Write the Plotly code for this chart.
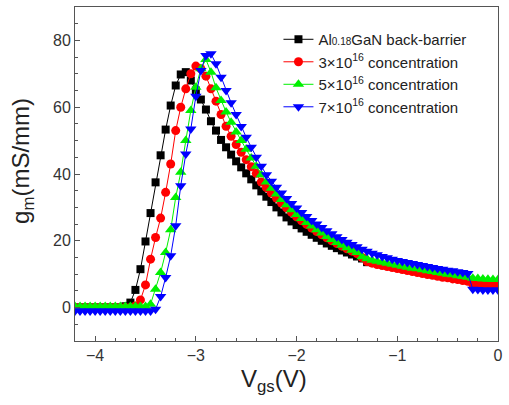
import plotly.graph_objects as go

# gate voltage grid (V)
vgs = [-4.20, -4.15, -4.10, -4.05, -4.00, -3.95, -3.90, -3.85, -3.80, -3.75,
       -3.70, -3.65, -3.60, -3.55, -3.50, -3.45, -3.40, -3.35, -3.30, -3.25,
       -3.20, -3.15, -3.10, -3.05, -3.00, -2.95, -2.90, -2.85, -2.80, -2.75,
       -2.70, -2.65, -2.60, -2.55, -2.50, -2.45, -2.40, -2.35, -2.30, -2.25,
       -2.20, -2.15, -2.10, -2.05, -2.00, -1.95, -1.90, -1.85, -1.80, -1.75,
       -1.70, -1.65, -1.60, -1.55, -1.50, -1.45, -1.40, -1.35, -1.30, -1.25,
       -1.20, -1.15, -1.10, -1.05, -1.00, -0.95, -0.90, -0.85, -0.80, -0.75,
       -0.70, -0.65, -0.60, -0.55, -0.50, -0.45, -0.40, -0.35, -0.30, -0.25,
       -0.20, -0.15, -0.10, -0.05, 0.00]

# transconductance gm (mS/mm)
gm_algan = [0, 0, 0, 0, 0, 0, 0, 0, 0, 0,
            0.4, 1.5, 5.3, 11.5, 19.8, 28.3, 37.5, 45.6, 53.3, 60.5,
            66.5, 69.8, 70.5, 68.0, 65.0, 62.3, 59.3, 55.8, 53.0, 50.2,
            48.0, 45.8, 43.8, 42.0, 40.2, 38.4, 36.6, 34.8, 33.2, 31.6,
            30.0, 28.5, 27.0, 25.8, 24.7, 23.7, 22.7, 21.8, 20.9, 20.0,
            19.2, 18.5, 17.8, 17.1, 16.5, 15.9, 15.3, 14.7, 13.6, None,
            None, None, None, None, None, None, None, None, None, None,
            None, None, None, None, None, None, None, None, None, None,
            None, None, None, None, None]

gm_3e16 = [0, 0, 0, 0, 0, 0, 0, 0, 0, 0,
           0, 0, 0.5, 2.3, 6.8, 14.5, 21.0, 26.8, 34.5, 43.0,
           53.0, 60.0, 65.5, 70.0, 72.3, 71.5, 69.3, 65.5, 61.8, 57.8,
           54.3, 51.3, 48.8, 46.5, 44.3, 42.2, 40.2, 37.6, 35.9, 34.3,
           32.8, 31.3, 29.9, 28.5, 27.2, 26.0, 24.9, 23.8, 22.8, 21.8,
           20.9, 20.0, 19.2, 18.4, 17.6, 16.9, 16.2, 15.0, 13.8, 13.3,
           12.9, 12.6, 12.3, 12.0, 11.7, 11.4, 11.1, 10.8, 10.5, 10.2,
           9.9, 9.7, 9.4, 9.1, 8.9, 8.6, 8.4, 8.1, 7.9, 7.0,
           6.9, 6.9, 6.8, 6.8, 6.8]

gm_5e16 = [0.3, 0.3, 0.3, 0.3, 0.3, 0.3, 0.3, 0.3, 0.3, 0.3,
           0.3, 0.3, 0.3, 0.3, 0.3, 1.0, 5.5, 10.5, 16.5, 23.3,
           33.0, 40.5, 50.0, 59.0, 66.0, 71.5, 74.3, 70.5, 65.8, 62.0,
           58.6, 55.5, 52.6, 50.0, 47.4, 44.8, 42.3, 39.8, 37.6, 35.7,
           34.0, 32.4, 30.8, 29.3, 27.9, 26.7, 25.5, 24.4, 23.3, 22.3,
           21.3, 20.4, 19.5, 18.7, 17.9, 17.2, 16.5, 15.2, 14.6, 14.2,
           13.9, 13.6, 13.3, 13.0, 12.7, 12.4, 12.1, 11.8, 11.6, 11.3,
           11.0, 10.8, 10.5, 10.3, 10.0, 9.8, 9.5, 9.3, 9.1, 8.8,
           8.7, 8.6, 8.5, 8.4, 8.4]

gm_7e16 = [-1.0, -1.0, -1.0, -1.0, -1.0, -1.0, -1.0, -1.0, -1.0, -1.0,
           -1.0, -1.0, -1.0, -1.0, -1.0, -1.0, -0.5, 3.3, 9.0, 15.5,
           24.5, 36.5, 46.0, 53.5, 63.3, 71.0, 75.5, 76.0, 73.0, 69.0,
           65.0, 61.3, 57.8, 54.2, 51.0, 48.0, 45.0, 42.3, 39.8, 37.8,
           36.0, 34.3, 32.7, 31.2, 29.8, 28.5, 27.3, 26.1, 25.0, 24.0,
           23.0, 22.1, 21.2, 20.4, 19.6, 18.9, 18.2, 17.5, 16.9, 16.3,
           15.8, 15.3, 14.9, 14.5, 14.1, 13.8, 13.5, 13.2, 12.9, 12.6,
           12.3, 12.0, 11.7, 11.5, 11.2, 11.0, 10.7, 10.5, 10.2, 5.5,
           5.4, 5.3, 5.3, 5.3, 5.3]

series = [
    ("Al<span style='font-size:10px'>0.18</span>GaN back-barrier", gm_algan, "#000000", "square", 8),
    ("3×10<sup>16</sup> concentration", gm_3e16, "#ff0000", "circle", 9),
    ("5×10<sup>16</sup> concentration", gm_5e16, "#00f000", "triangle-up", 10),
    ("7×10<sup>16</sup> concentration", gm_7e16, "#0000ff", "triangle-down", 10),
]

fig = go.Figure()
for name, vals, color, symbol, size in series:
    fig.add_trace(go.Scatter(
        x=vgs, y=vals, name=name, mode="lines+markers",
        line=dict(color=color, width=1),
        marker=dict(symbol=symbol, size=size, color=color, line=dict(width=0)),
    ))

font = "Arial, Liberation Sans, sans-serif"
axis_common = dict(
    showline=True, linecolor="#555555", linewidth=1, mirror=True,
    ticks="inside", ticklen=5, tickcolor="#555555",
    minor=dict(ticks="inside", ticklen=3, tickcolor="#555555"),
    showgrid=False, zeroline=False,
    tickfont=dict(family=font, size=16, color="#333333"),
)

fig.update_layout(
    width=509, height=405,
    margin=dict(l=75, r=9, t=6, b=64),
    paper_bgcolor="white", plot_bgcolor="white",
    font=dict(family=font, color="#222222"),
    legend=dict(
        x=0.481, y=0.952, xanchor="left", yanchor="top",
        bgcolor="rgba(0,0,0,0)", font=dict(family=font, size=15, color="#222222"),
    ),
)
fig.update_xaxes(range=[-4.2, 0], dtick=1, tick0=0, **axis_common)
fig.update_yaxes(range=[-10, 90], dtick=20, tick0=0, **axis_common)

# axis titles placed by hand so they sit where the original ones do
fig.add_annotation(text="V<sub>gs</sub>(V)", xref="paper", yref="paper",
                   x=0.4706, y=-0.119, xanchor="center", yanchor="middle",
                   showarrow=False, font=dict(family=font, size=24, color="#222222"))
fig.add_annotation(text="g<sub>m</sub>(mS/mm)", xref="paper", yref="paper",
                   x=-0.1247, y=0.54, xanchor="center", yanchor="middle",
                   textangle=-90, showarrow=False,
                   font=dict(family=font, size=24, color="#222222"))

fig.write_html("out.html", config={"displayModeBar": False},
               post_script="document.body.style.margin='0';")
